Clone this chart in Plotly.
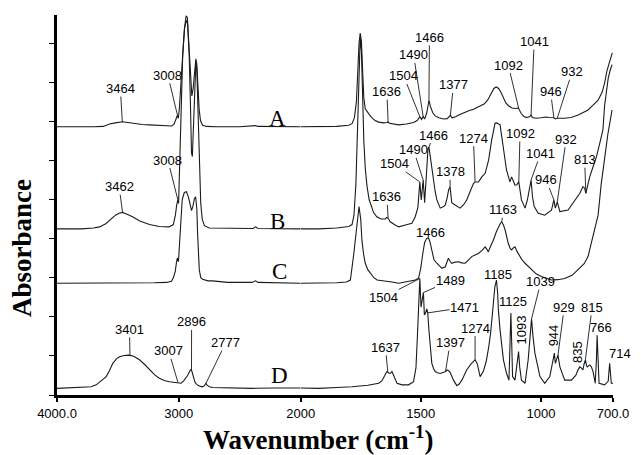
import numpy as np
import plotly.graph_objects as go

# ---------------- data (wavenumber cm-1, absorbance in offset units) ----------------
A_wn = [4000, 3900, 3800, 3700, 3620, 3569, 3520, 3464, 3420, 3378, 3300, 3241, 3160, 3105, 3060, 3040, 3025, 3012, 3004,
        2995, 2982, 2968, 2955, 2940, 2930, 2918, 2905, 2893, 2882, 2870, 2860, 2852, 2843, 2833, 2822, 2805, 2770, 2700,
        2500, 2390, 2370, 2350, 2200, 2000,
        1924, 1850, 1800, 1786, 1776, 1768, 1762, 1757, 1752, 1747, 1742, 1737, 1731, 1722, 1715, 1705, 1690, 1675, 1655,
        1642, 1636, 1630, 1610, 1592, 1560, 1530, 1515, 1504, 1497, 1490, 1484, 1475, 1466, 1460, 1450, 1440, 1425, 1405,
        1390, 1377, 1370, 1355, 1340, 1320, 1300, 1280, 1262, 1248, 1235, 1220, 1208, 1196, 1186, 1176, 1166, 1156, 1146,
        1135, 1120, 1105, 1098, 1092, 1082, 1070, 1058, 1046, 1041, 1036, 1020, 1000, 980, 965, 950, 946, 940, 932, 920,
        901, 875, 845, 820, 804, 785, 762, 745, 735, 725, 715, 708, 703]
A_abs = [6.86, 6.86, 6.85, 6.86, 6.87, 6.93, 6.96, 6.99, 6.97, 6.95, 6.92, 6.91, 6.89, 6.88, 6.88, 6.92, 7.02, 7.15, 7.08,
         7.35, 8.0, 8.8, 9.35, 9.70, 9.66, 9.0, 8.1, 7.65, 7.85, 8.35, 8.60, 8.45, 7.9, 7.3, 7.02, 6.90, 6.87, 6.86,
         6.86, 6.87, 6.89, 6.87, 6.86, 6.86,
         6.86, 6.87, 6.90, 6.94, 7.10, 7.50, 8.3, 9.0, 9.26, 9.05, 8.3, 7.6, 7.32, 7.22, 7.18, 7.10, 7.02, 6.98, 6.96,
         6.97, 6.98, 6.95, 6.93, 6.91, 6.93, 6.97, 7.02, 7.12, 7.05, 7.12, 7.06, 7.22, 7.54, 7.38, 7.22, 7.14, 7.09, 7.06,
         7.07, 7.15, 7.09, 7.12, 7.17, 7.23, 7.27, 7.31, 7.36, 7.40, 7.45, 7.56, 7.72, 7.84, 7.88, 7.84, 7.74, 7.58, 7.47,
         7.40, 7.34, 7.33, 7.34, 7.32, 7.20, 7.12, 7.10, 7.12, 7.17, 7.10, 7.08, 7.09, 7.11, 7.10, 7.08, 7.09, 7.06, 7.08, 7.08,
         7.08, 7.10, 7.16, 7.24, 7.29, 7.40, 7.54, 7.75, 7.98, 8.30, 8.52, 8.65, 8.75]

B_wn = [4000, 3800, 3700, 3651, 3600, 3560, 3520, 3490, 3462, 3430, 3380, 3320, 3241, 3160, 3080, 3045, 3028, 3018, 3008,
        3002, 2995, 2982, 2968, 2952, 2938, 2928, 2915, 2905, 2896, 2889, 2880, 2870, 2860, 2852, 2843, 2832, 2820, 2808,
        2790, 2750, 2600, 2390, 2370, 2350, 2000,
        1924, 1850, 1800, 1786, 1778, 1770, 1763, 1757, 1752, 1747, 1742, 1737, 1731, 1724, 1715, 1705, 1696, 1683, 1665,
        1648, 1642, 1636, 1627, 1610, 1592, 1564, 1537, 1523, 1512, 1504, 1498, 1490, 1484, 1476, 1470, 1466, 1459, 1450,
        1440, 1433, 1419, 1405, 1398, 1390, 1384, 1378, 1371, 1357, 1336, 1320, 1309, 1295, 1281, 1274, 1260, 1246, 1232,
        1218, 1205, 1191, 1184, 1170, 1156, 1143, 1129, 1122, 1108, 1100, 1092, 1081, 1066, 1056, 1041, 1035, 1028, 1011,
        984, 956, 946, 940, 932, 921, 887, 859, 838, 825, 818, 813, 808, 797, 785, 769, 755, 742, 735, 728, 720, 712, 704]
B_abs = [4.25, 4.25, 4.27, 4.30, 4.38, 4.50, 4.60, 4.65, 4.67, 4.63, 4.56, 4.45, 4.36, 4.31, 4.30, 4.36, 4.60, 4.85, 4.99,
         4.90, 5.6, 7.2, 8.7, 9.4, 9.58, 9.5, 8.7, 7.5, 6.2, 6.1, 6.9, 8.0, 8.52, 8.3, 7.3, 5.9, 4.9, 4.50,
         4.33, 4.27, 4.26, 4.26, 4.30, 4.26, 4.25,
         4.25, 4.27, 4.31, 4.36, 4.60, 5.4, 7.0, 8.5, 9.15, 8.8, 7.6, 6.5, 5.8, 5.35, 5.0, 4.80, 4.66, 4.56, 4.50,
         4.50, 4.54, 4.52, 4.43, 4.36, 4.30, 4.35, 4.39, 4.56, 4.80, 5.45, 4.99, 5.50, 4.92, 5.7, 6.30, 6.34, 6.0, 5.6,
         5.2, 4.99, 4.78, 4.82, 4.86, 5.05, 5.25, 5.32, 4.92, 4.86, 4.78, 4.88, 4.99, 5.2, 5.41, 5.45, 5.45, 5.58, 5.67,
         6.0, 6.52, 6.95, 6.96, 6.91, 6.35, 5.75, 5.45, 5.58, 5.37, 5.38, 5.45, 4.99, 4.78, 5.0, 5.50, 5.07, 4.82, 4.65,
         4.60, 4.73, 4.99, 4.78, 4.94, 4.69, 4.73, 4.99, 5.16, 5.33, 5.29, 5.16, 5.30, 5.58, 5.80, 6.09, 6.44, 6.78, 7.40, 7.8, 8.1, 8.3, 8.45]

C_wn = [4000, 3800, 3500, 3200, 3100, 3060, 3045, 3030, 3018, 3012, 3003, 2995, 2985, 2972, 2955, 2937, 2920, 2908, 2896,
        2885, 2872, 2862, 2852, 2846, 2838, 2832, 2820, 2805, 2760, 2723, 2600, 2400, 2370, 2350, 2000,
        1924, 1850, 1810, 1793, 1779, 1770, 1763, 1757, 1750, 1745, 1738, 1731, 1720, 1710, 1695, 1682, 1647, 1620, 1592,
        1551, 1523, 1509, 1500, 1492, 1484, 1476, 1468, 1462, 1455, 1445, 1433, 1420, 1412, 1398, 1392, 1385, 1378, 1371,
        1357, 1343, 1330, 1315, 1300, 1288, 1274, 1260, 1245, 1232, 1224, 1219, 1210, 1198, 1185, 1177, 1168, 1163, 1156,
        1149, 1143, 1136, 1128, 1122, 1115, 1108, 1100, 1094, 1080, 1066, 1050, 1039, 1020, 998, 975, 956, 930, 901, 870,
        845, 820, 804, 790, 776, 762, 749, 735, 721, 712, 704]
C_abs = [2.86, 2.86, 2.86, 2.87, 2.88, 2.91, 3.0, 3.15, 3.42, 3.50, 3.41, 3.8, 4.45, 5.0, 5.18, 5.20, 5.05, 4.85, 4.72,
         4.82, 5.02, 5.07, 4.75, 4.14, 3.60, 3.20, 3.0, 2.96, 2.92, 2.92, 2.88, 2.88, 2.92, 2.88, 2.86,
         2.86, 2.87, 2.89, 2.94, 3.6, 4.1, 4.55, 4.82, 4.5, 3.96, 3.6, 3.37, 3.2, 3.11, 3.0, 2.94, 2.92, 2.89, 2.86,
         2.90, 2.94, 2.99, 3.25, 3.6, 3.9, 4.0, 4.02, 3.92, 3.70, 3.46, 3.37, 3.28, 3.24, 3.28, 3.40, 3.50, 3.42, 3.37,
         3.40, 3.41, 3.38, 3.37, 3.46, 3.54, 3.58, 3.62, 3.70, 3.79, 3.72, 3.66, 3.80, 3.96, 4.18, 4.30, 4.40, 4.43, 4.35,
         4.22, 4.05, 3.88, 3.75, 3.71, 3.76, 3.79, 3.68, 3.62, 3.47, 3.37, 3.27, 3.20, 3.10, 3.03, 2.97, 2.94, 2.95, 2.98, 3.06,
         3.20, 3.36, 3.54, 3.90, 4.20, 4.60, 5.4, 6.1, 6.69, 7.0, 7.29]

D_wn = [4000, 3900, 3800, 3720, 3678, 3640, 3596, 3570, 3542, 3510, 3487, 3450, 3411, 3370, 3323, 3280, 3241, 3200, 3160,
        3120, 3078, 3040, 3023, 3007, 2995, 2982, 2960, 2940, 2928, 2912, 2900, 2892, 2880, 2868, 2859, 2840, 2820, 2805,
        2790, 2777, 2768, 2750, 2723, 2600, 2400, 2200, 2000,
        1924, 1850, 1786, 1720, 1690, 1675, 1662, 1652, 1641, 1633, 1627, 1620, 1612, 1599, 1578, 1551, 1530, 1520, 1514,
        1508, 1504, 1499, 1494, 1489, 1485, 1480, 1475, 1471, 1466, 1460, 1454, 1447, 1440, 1430, 1419, 1405, 1397, 1390,
        1385, 1378, 1364, 1350, 1340, 1329, 1309, 1290, 1280, 1274, 1265, 1253, 1240, 1228, 1218, 1210, 1200, 1192, 1185,
        1180, 1177, 1170, 1156, 1143, 1133, 1128, 1125, 1121, 1118, 1108, 1098, 1093, 1088, 1081, 1066, 1053, 1045, 1039,
        1033, 1025, 1004, 984, 963, 950, 944, 940, 935, 929, 921, 901, 873, 855, 845, 838, 830, 825, 820, 815, 810, 807,
        797, 790, 783, 774, 769, 766, 762, 758, 735, 720, 714, 710, 707, 700]
D_abs = [0.17, 0.18, 0.19, 0.21, 0.26, 0.35, 0.47, 0.62, 0.81, 0.93, 0.98, 1.01, 1.02, 0.99, 0.90, 0.78, 0.64, 0.52, 0.43,
         0.37, 0.34, 0.32, 0.31, 0.32, 0.30, 0.30, 0.36, 0.44, 0.50, 0.60, 0.66, 0.60, 0.45, 0.33, 0.29, 0.24, 0.22, 0.21,
         0.24, 0.30, 0.25, 0.21, 0.19, 0.18, 0.17, 0.18, 0.18,
         0.17, 0.19, 0.21, 0.25, 0.28, 0.30, 0.36, 0.47, 0.60, 0.56, 0.55, 0.60, 0.48, 0.30, 0.26, 0.26, 0.34, 0.70, 1.5,
         2.4, 2.98, 2.25, 2.45, 2.62, 2.05, 2.10, 2.20, 2.10, 1.65, 1.10, 0.81, 0.68, 0.60, 0.57, 0.55, 0.58, 0.60, 0.64,
         0.63, 0.58, 0.38, 0.24, 0.28, 0.38, 0.64, 0.80, 0.88, 0.90, 0.80, 0.47, 0.60, 0.85, 1.20, 1.55, 2.20, 2.75, 2.94,
         2.60, 2.17, 1.66, 0.90, 0.55, 0.38, 1.3, 2.10, 1.2, 0.47, 0.38, 0.8, 1.11, 0.7, 0.38, 0.30, 0.90, 1.5, 1.95,
         1.5, 1.07, 0.47, 0.30, 0.47, 0.85, 1.07, 0.81, 0.90, 1.02, 0.72, 0.38, 0.38, 0.50, 0.65, 0.72, 0.68, 0.64, 0.80, 0.90, 0.75, 0.72,
         0.77, 0.72, 0.60, 0.30, 0.9, 1.53, 0.9, 0.30, 0.26, 0.35, 0.81, 0.40, 0.30, 0.30]

# peak labels: (text, anchor wavenumber or None, label wavenumber, label absorbance)
A_labels = [("3464", 3464, 3480, 7.84), ("3008", 3008, 3090, 8.18), ("1636", 1636, 1641, 7.76),
            ("1504", 1504, 1571, 8.16), ("1490", 1490, 1530, 8.70), ("1466", 1466, 1464, 9.15),
            ("1377", 1377, 1364, 7.93), ("1092", 1092, 1136, 8.44), ("1041", 1041, 1028, 9.04),
            ("946", 946, 960, 7.76), ("932", 932, 870, 8.27)]
B_labels = [("3462", 3462, 3490, 5.33), ("3008", 3008, 3090, 6.01), ("1636", 1636, 1641, 5.07),
            ("1504", 1504, 1609, 5.91), ("1490", 1490, 1530, 6.27), ("1466", 1466, 1447, 6.65),
            ("1378", 1378, 1378, 5.71), ("1274", 1274, 1281, 6.57), ("1092", 1092, 1087, 6.69),
            ("1041", 1041, 1001, 6.18), ("946", 946, 978, 5.50), ("932", 932, 895, 6.54),
            ("813", 813, 818, 6.02)]
C_labels = [("1163", 1163, 1156, 4.74), ("1466", None, 1461, 4.15)]
D_labels = [("3401", 3401, 3405, 1.68), ("3007", 3007, 3084, 1.13), ("2896", 2896, 2895, 1.87),
            ("2777", 2777, 2614, 1.34), ("1637", 1637, 1647, 1.22), ("1504", 1504, 1654, 2.50),
            ("1489", 1489, 1378, 2.92), ("1471", 1471, 1318, 2.24), ("1397", 1397, 1378, 1.34),
            ("1274", 1274, 1274, 1.71), ("1185", None, 1180, 3.07), ("1125", None, 1115, 2.39),
            ("1039", 1039, 1000, 2.90), ("929", 929, 903, 2.24), ("815", 815, 787, 2.24),
            ("766", 766, 749, 1.72), ("714", None, 701, 1.05)]
D_rot_labels = [("1093", 1081, 1.66), ("944", 949, 1.53), ("835", 848, 1.11)]
# the "714" label sits just past the right end of the axis
label_xshift = {"714": 7}

curve_names = ["A", "B", "C", "D"]
curve_name_pos = [(2194, 7.06), (2194, 4.45), (2175, 3.15), (2175, 0.49)]

x1_ticks = [4000, 3000, 2000]
x1_ticktext = ["4000.0", "3000", "2000"]
x2_ticks = [1500, 1000, 700]
x2_ticktext = ["1500", "1000", "700.0"]

# ---------------- figure ----------------
BREAK = 2000
SPLIT = 0.4382
LINE = "#1a1a1a"
NUMFONT = dict(family="Liberation Sans, Arial, sans-serif", size=13, color="black")
SERIF = "Liberation Serif"

fig = go.Figure()
spectra = [(A_wn, A_abs), (B_wn, B_abs), (C_wn, C_abs), (D_wn, D_abs)]
for wn, ab in spectra:
    wn = np.array(wn, dtype=float)
    ab = np.array(ab, dtype=float)
    left = wn >= BREAK
    right = wn <= BREAK
    fig.add_trace(go.Scatter(x=wn[left], y=ab[left], xaxis="x", yaxis="y", mode="lines",
                             line=dict(color=LINE, width=1.1), hoverinfo="skip", showlegend=False))
    fig.add_trace(go.Scatter(x=wn[right], y=ab[right], xaxis="x2", yaxis="y", mode="lines",
                             line=dict(color=LINE, width=1.1), hoverinfo="skip", showlegend=False))


def xr(w):
    return "x" if w >= BREAK else "x2"


annotations = []
for (wn, ab), labels in zip(spectra, [A_labels, B_labels, C_labels, D_labels]):
    wn_r = np.array(wn, dtype=float)[::-1]
    ab_r = np.array(ab, dtype=float)[::-1]
    for text, anc, lx, ly in labels:
        ref = xr(lx if anc is None else anc)
        if anc is None:
            annotations.append(dict(text=text, x=lx, y=ly, xref=ref, yref="y", showarrow=False,
                                    font=NUMFONT, xanchor="center", yanchor="middle",
                                    xshift=label_xshift.get(text, 0)))
        else:
            ay_val = float(np.interp(anc, wn_r, ab_r))
            annotations.append(dict(text=text, x=anc, y=ay_val, xref=ref, yref="y",
                                    ax=lx, ay=ly, axref=ref, ayref="y", showarrow=True,
                                    arrowhead=0, arrowwidth=0.9, arrowcolor=LINE, standoff=0,
                                    font=NUMFONT, borderpad=0))

for text, lx, ly in D_rot_labels:
    annotations.append(dict(text=text, x=lx, y=ly, xref=xr(lx), yref="y", showarrow=False,
                            textangle=-90, font=NUMFONT, xanchor="center", yanchor="middle"))

for name, (px, py) in zip(curve_names, curve_name_pos):
    annotations.append(dict(text=name, x=px, y=py, xref=xr(px), yref="y", showarrow=False,
                            font=dict(family=SERIF, size=23, color="black")))

annotations.append(dict(text="<b>Absorbance</b>", x=-0.0627, y=0.387, xref="paper", yref="paper",
                        showarrow=False, textangle=-90, xanchor="center", yanchor="middle",
                        font=dict(family=SERIF, size=27, color="black", weight="bold")))
annotations.append(dict(text="<b>Wavenumber (cm<sup>-1</sup>)</b>", x=0.4695, y=-0.113, xref="paper",
                        yref="paper", showarrow=False, xanchor="center", yanchor="middle",
                        font=dict(family=SERIF, size=27, color="black", weight="bold")))

axis_common = dict(ticks="outside", ticklen=4, tickwidth=1.5, tickcolor="black", showline=True,
                   linewidth=3, linecolor="black", showgrid=False, zeroline=False,
                   tickfont=NUMFONT, anchor="y", fixedrange=True)

fig.update_layout(
    width=641, height=455,
    margin=dict(l=57, r=26, t=15, b=60),
    plot_bgcolor="white", paper_bgcolor="white",
    xaxis=dict(domain=[0, SPLIT], range=[4000, BREAK], tickmode="array", tickvals=x1_ticks,
               ticktext=x1_ticktext, **axis_common),
    xaxis2=dict(domain=[SPLIT, 1], range=[BREAK, 700], tickmode="array", tickvals=x2_ticks,
                ticktext=x2_ticktext, **axis_common),
    yaxis=dict(range=[0, 9.72], tick0=0, dtick=1, ticks="outside", ticklen=5, tickwidth=1.2,
               tickcolor="black", showticklabels=False, showline=True, linewidth=2.5,
               linecolor="black", showgrid=False, zeroline=False, fixedrange=True),
    annotations=annotations,
)

fig.write_html("out.html")
